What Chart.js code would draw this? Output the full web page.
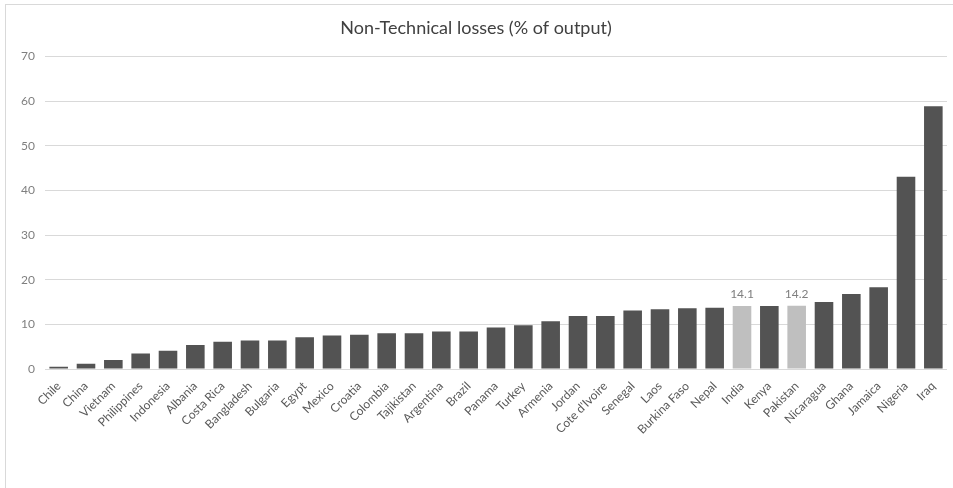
<!DOCTYPE html>
<html>
<head>
<meta charset="utf-8">
<title>Non-Technical losses</title>
<script src="https://cdn.jsdelivr.net/npm/chart.js@4"></script>
<style>
  html, body { margin: 0; padding: 0; background: #fff; overflow: hidden; }
  #frame {
    position: absolute; left: 5px; top: 4px; width: 1000px; height: 600px;
    border-top: 1px solid #d9d9d9; border-left: 1px solid #d9d9d9;
  }
  #lossChart { position: absolute; left: 0; top: 0; }
</style>
</head>
<body>
<div id="frame"></div>
<canvas id="lossChart" width="953" height="488"></canvas>
<script>
const countries = ['Chile', 'China', 'Vietnam', 'Philippines', 'Indonesia', 'Albania', 'Costa Rica',
  'Bangladesh', 'Bulgaria', 'Egypt', 'Mexico', 'Croatia', 'Colombia', 'Tajikistan', 'Argentina',
  'Brazil', 'Panama', 'Turkey', 'Armenia', 'Jordan', "Cote d'Ivoire", 'Senegal', 'Laos',
  'Burkina Faso', 'Nepal', 'India', 'Kenya', 'Pakistan', 'Nicaragua', 'Ghana', 'Jamaica',
  'Nigeria', 'Iraq'];
const losses = [0.5, 1.2, 2.0, 3.5, 4.1, 5.4, 6.1, 6.4, 6.4, 7.1, 7.5, 7.7, 8.0, 8.0, 8.4,
  8.4, 9.3, 9.8, 10.7, 11.9, 11.9, 13.1, 13.4, 13.6, 13.7, 14.1, 14.1, 14.2, 15.0, 16.8, 18.3,
  43.1, 58.9];
const highlighted = ['India', 'Pakistan'];
const yTicks = [0, 10, 20, 30, 40, 50, 60, 70];

const barColors = countries.map(c => highlighted.includes(c) ? '#bfbfbf' : '#535353');

// value labels above the highlighted bars only
const valueLabels = {
  id: 'valueLabels',
  afterDatasetsDraw(chart) {
    const ctx = chart.ctx;
    const meta = chart.getDatasetMeta(0);
    ctx.save();
    ctx.font = '12px Lato';
    ctx.fillStyle = '#7f7f7f';
    ctx.textAlign = 'center';
    ctx.textBaseline = 'bottom';
    meta.data.forEach((bar, i) => {
      if (!highlighted.includes(countries[i])) return;
      ctx.fillText(losses[i].toFixed(1), bar.x, bar.y - 6);
    });
    ctx.restore();
  }
};

const ctx = document.getElementById('lossChart');
new Chart(ctx, {
  type: 'bar',
  data: {
    labels: countries,
    datasets: [{
      data: losses,
      backgroundColor: barColors,
      barPercentage: 0.68,
      categoryPercentage: 1.0
    }]
  },
  options: {
    responsive: false,
    animation: false,
    layout: { padding: { left: 5, right: 6, top: 0, bottom: 0 } },
    plugins: {
      legend: { display: false },
      tooltip: { enabled: false },
      title: {
        display: true,
        text: 'Non-Technical losses (% of output)',
        color: '#404040',
        font: { family: 'Lato', size: 18, weight: 'normal' },
        padding: { top: 17, bottom: 18 }
      }
    },
    scales: {
      x: {
        grid: { display: false },
        border: { display: false },
        ticks: {
          color: '#595959',
          font: { family: 'Lato', size: 12 },
          maxRotation: 45,
          minRotation: 45,
          autoSkip: false,
          padding: 2
        },
        afterFit(scale) { scale.height = 119; }
      },
      y: {
        min: 0,
        max: 70,
        afterBuildTicks(scale) { scale.ticks = yTicks.map(v => ({ value: v })); },
        grid: { color: '#d9d9d9', lineWidth: 1, drawTicks: false },
        border: { display: false },
        ticks: {
          color: '#7f7f7f',
          font: { family: 'Lato', size: 12 },
          padding: 10
        },
        afterFit(scale) { scale.width = 40; }
      }
    }
  },
  plugins: [valueLabels]
});
</script>
</body>
</html>
